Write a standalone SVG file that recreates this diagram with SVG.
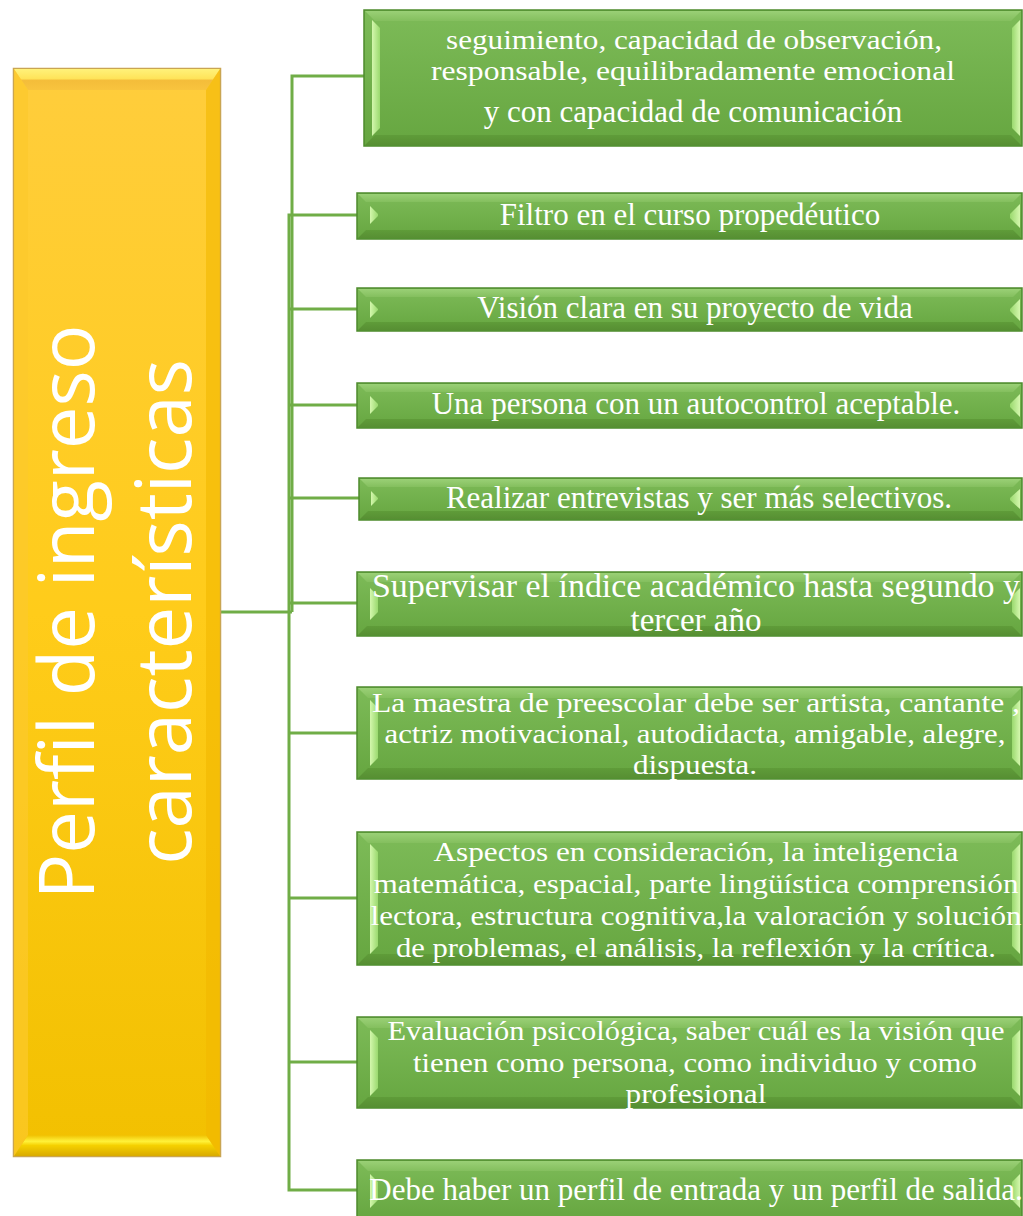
<svg xmlns="http://www.w3.org/2000/svg" width="1023" height="1216" viewBox="0 0 1023 1216">
<defs>
<linearGradient id="gFill" x1="0" y1="0" x2="0" y2="1"><stop offset="0" stop-color="#7dbb58"/><stop offset="1" stop-color="#66a640"/></linearGradient>
<linearGradient id="gTop" x1="0" y1="0" x2="0" y2="1"><stop offset="0" stop-color="#9ad076"/><stop offset="1" stop-color="#84bf5e"/></linearGradient>
<linearGradient id="gBot" x1="0" y1="0" x2="0" y2="1"><stop offset="0" stop-color="#5f9c39"/><stop offset="1" stop-color="#578f33"/></linearGradient>
<linearGradient id="gLeft" x1="0" y1="0" x2="1" y2="0"><stop offset="0" stop-color="#d4f7ad"/><stop offset="1" stop-color="#9ad96e"/></linearGradient>
<linearGradient id="gRight" x1="1" y1="0" x2="0" y2="0"><stop offset="0" stop-color="#d4f7ad"/><stop offset="1" stop-color="#9ad96e"/></linearGradient>
<linearGradient id="yFill" x1="0" y1="0" x2="0" y2="1"><stop offset="0" stop-color="#ffcd3c"/><stop offset="0.5" stop-color="#ffcc1a"/><stop offset="1" stop-color="#f2c000"/></linearGradient>
<linearGradient id="yTop" x1="0" y1="0" x2="0" y2="1"><stop offset="0" stop-color="#fff27a"/><stop offset="0.45" stop-color="#ffe45a"/><stop offset="0.55" stop-color="#f4bd3a"/><stop offset="1" stop-color="#f8c43e"/></linearGradient>
<linearGradient id="yBot" x1="0" y1="0" x2="0" y2="1"><stop offset="0" stop-color="#f0c000"/><stop offset="0.3" stop-color="#fff23a"/><stop offset="0.5" stop-color="#f5d000"/><stop offset="1" stop-color="#d9aa00"/></linearGradient>
</defs>
<style>
.box{fill:url(#gFill);stroke:#4d8a2c;stroke-width:1.5}
.bt{fill:url(#gTop)}
.bb{fill:url(#gBot)}
.bl{fill:url(#gLeft)}
.br{fill:url(#gRight)}
.t{font-family:"Liberation Serif","Times New Roman",serif;font-size:31px;fill:#ffffff;text-anchor:middle}
.s{font-size:28px}
.big{font-size:33px}
.c{fill:none;stroke:#70ad47;stroke-width:3}
</style>

<g id="connectors">
<path class="c" d="M221,612 H292"/>
<path class="c" d="M364,76 H292 V612"/>
<path class="c" d="M357,215 H289 V1190 H357"/>
<path class="c" d="M289,309 H357"/>
<path class="c" d="M289,405 H357"/>
<path class="c" d="M289,498 H359"/>
<path class="c" d="M289,603 H357"/>
<path class="c" d="M289,733 H357"/>
<path class="c" d="M289,898 H357"/>
<path class="c" d="M289,1062 H357"/>
</g>

<g id="root">
<rect x="13.5" y="68.5" width="207" height="1088" fill="url(#yFill)" stroke="#c9a552" stroke-width="1.5"/>
<polygon points="14,69 220,69 206,90 28,90" fill="url(#yTop)"/>
<polygon points="14,1156 220,1156 206,1135 28,1135" fill="url(#yBot)"/>
<polygon points="14,69 28,90 28,1135 14,1156" fill="#fcc92c" opacity="0.7"/>
<polygon points="220,69 206,90 206,1135 220,1156" fill="#f2b800" opacity="0.6"/>
<g font-family="'Open Sans','Noto Sans',sans-serif" font-size="76" fill="#ffffff" text-anchor="middle">
<text transform="translate(94,612) rotate(-90)">Perfil de ingreso</text>
<text transform="translate(191,612) rotate(-90)">características</text>
</g>
</g>

<g id="n1">
<rect class="box" x="364" y="10" width="658" height="136"/>
<polygon class="bt" points="365,11 1021,11 1011,21 375,21"/>
<polygon class="bb" points="365,145 1021,145 1011,135 375,135"/>
<polygon class="bl" points="372,20 380,28 380,128 372,136"/>
<polygon class="br" points="1020,20 1012,28 1012,128 1020,136"/>
<text class="t s" x="694" y="49" textLength="496" lengthAdjust="spacingAndGlyphs">seguimiento, capacidad de observación,</text>
<text class="t s" x="693" y="80" textLength="524" lengthAdjust="spacingAndGlyphs">responsable, equilibradamente emocional</text>
<text class="t" x="693" y="122">y con capacidad de comunicación</text>
</g>

<g id="n2">
<rect class="box" x="357" y="193" width="665" height="46"/>
<polygon class="bt" points="358,194 1021,194 1013,202 366,202"/>
<polygon class="bb" points="358,238 1021,238 1013,230 366,230"/>
<polygon class="bl" points="370,206 378,214 378,216 370,224"/>
<polygon class="br" points="1020,204 1010,214 1010,218 1020,228"/>
<text class="t" x="690" y="225">Filtro en el curso propedéutico</text>
</g>

<g id="n3">
<rect class="box" x="357" y="288" width="665" height="43"/>
<polygon class="bt" points="358,289 1021,289 1013,297 366,297"/>
<polygon class="bb" points="358,330 1021,330 1013,322 366,322"/>
<polygon class="bl" points="370,301 378,309 378,310 370,318"/>
<polygon class="br" points="1020,299 1010,309 1010,311 1020,321"/>
<text class="t" x="695" y="318">Visión clara en su proyecto de vida</text>
</g>

<g id="n4">
<rect class="box" x="357" y="383" width="665" height="45"/>
<polygon class="bt" points="358,384 1021,384 1013,392 366,392"/>
<polygon class="bb" points="358,427 1021,427 1013,419 366,419"/>
<polygon class="bl" points="370,396 378,404 378,406 370,414"/>
<polygon class="br" points="1020,394 1010,404 1010,407 1020,417"/>
<text class="t" x="696" y="414">Una persona con un autocontrol aceptable.</text>
</g>

<g id="n5">
<rect class="box" x="359" y="478" width="663" height="42"/>
<polygon class="bt" points="360,479 1021,479 1013,487 368,487"/>
<polygon class="bb" points="360,519 1021,519 1013,511 368,511"/>
<polygon class="bl" points="371,491 378,498 378,499 371,506"/>
<polygon class="br" points="1020,489 1010,498 1010,500 1020,509"/>
<text class="t" x="699" y="508">Realizar entrevistas y ser más selectivos.</text>
</g>

<g id="n6">
<rect class="box" x="357" y="572" width="665" height="64"/>
<polygon class="bt" points="358,573 1021,573 1012,582 367,582"/>
<polygon class="bb" points="358,635 1021,635 1012,626 367,626"/>
<polygon class="bl" points="370,588 378,596 378,612 370,620"/>
<polygon class="br" points="1020,588 1012,596 1012,612 1020,620"/>
<text class="t big" x="696" y="597" textLength="648" lengthAdjust="spacingAndGlyphs">Supervisar el índice académico hasta segundo y</text>
<text class="t big" x="696" y="631">tercer año</text>
</g>

<g id="n7">
<rect class="box" x="357" y="687" width="665" height="92"/>
<polygon class="bt" points="358,688 1021,688 1011,698 368,698"/>
<polygon class="bb" points="358,778 1021,778 1011,768 368,768"/>
<polygon class="bl" points="370,700 378,708 378,758 370,766"/>
<polygon class="br" points="1020,700 1012,708 1012,758 1020,766"/>
<text class="t s" x="696" y="712" textLength="648" lengthAdjust="spacingAndGlyphs">La maestra de preescolar debe ser artista, cantante ,</text>
<text class="t s" x="695" y="743" textLength="621" lengthAdjust="spacingAndGlyphs">actriz motivacional, autodidacta, amigable, alegre,</text>
<text class="t s" x="695" y="774" textLength="124" lengthAdjust="spacingAndGlyphs">dispuesta.</text>
</g>

<g id="n8">
<rect class="box" x="357" y="832" width="665" height="133"/>
<polygon class="bt" points="358,833 1021,833 1011,843 368,843"/>
<polygon class="bb" points="358,964 1021,964 1011,954 368,954"/>
<polygon class="bl" points="370,844 378,852 378,946 370,954"/>
<polygon class="br" points="1020,844 1012,852 1012,946 1020,954"/>
<text class="t s" x="696" y="861" textLength="525" lengthAdjust="spacingAndGlyphs">Aspectos en consideración, la inteligencia</text>
<text class="t s" x="696" y="893" textLength="645" lengthAdjust="spacingAndGlyphs">matemática, espacial, parte lingüística comprensión</text>
<text class="t s" x="696" y="925" textLength="651" lengthAdjust="spacingAndGlyphs">lectora, estructura cognitiva,la valoración y solución</text>
<text class="t s" x="696" y="957" textLength="600" lengthAdjust="spacingAndGlyphs">de problemas, el análisis, la reflexión y la crítica.</text>
</g>

<g id="n9">
<rect class="box" x="357" y="1017" width="665" height="91"/>
<polygon class="bt" points="358,1018 1021,1018 1011,1028 368,1028"/>
<polygon class="bb" points="358,1107 1021,1107 1011,1097 368,1097"/>
<polygon class="bl" points="370,1030 378,1038 378,1088 370,1096"/>
<polygon class="br" points="1020,1030 1012,1038 1012,1088 1020,1096"/>
<text class="t s" x="696" y="1040" textLength="617" lengthAdjust="spacingAndGlyphs">Evaluación psicológica, saber cuál es la visión que</text>
<text class="t s" x="695" y="1072" textLength="564" lengthAdjust="spacingAndGlyphs">tienen como persona, como individuo y como</text>
<text class="t s" x="696" y="1103" textLength="141" lengthAdjust="spacingAndGlyphs">profesional</text>
</g>

<g id="n10">
<rect class="box" x="357" y="1160" width="665" height="60"/>
<polygon class="bt" points="358,1161 1021,1161 1011,1171 368,1171"/>
<polygon class="bl" points="370,1174 378,1182 378,1200 370,1208"/>
<polygon class="br" points="1020,1174 1012,1182 1012,1200 1020,1208"/>
<text class="t" x="696" y="1200">Debe haber un perfil de entrada y un perfil de salida.</text>
</g>
</svg>
